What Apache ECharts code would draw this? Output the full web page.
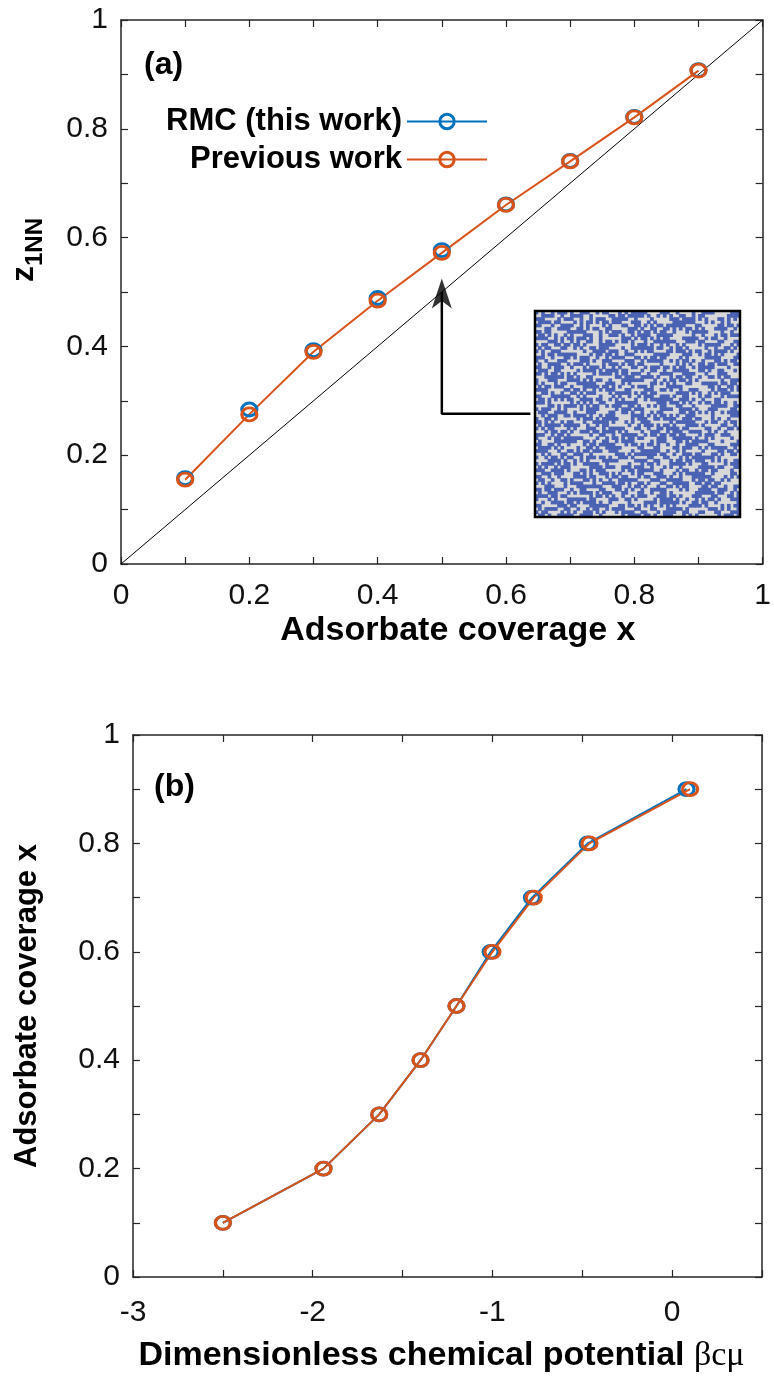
<!DOCTYPE html>
<html>
<head>
<meta charset="utf-8">
<script src="https://cdn.jsdelivr.net/npm/echarts@6/dist/echarts.min.js"></script>
<style>
  html, body { margin: 0; padding: 0; background: #fff; }
  .demo { width: 774px; height: 1383px; }
</style>
</head>
<body>
<div class="demo"></div>
<script>
// panel (a): nearest-neighbour fraction vs coverage
const xTop = [0.1, 0.2, 0.3, 0.4, 0.5, 0.6, 0.7, 0.8, 0.9]
const rmcTop = [0.158, 0.284, 0.393, 0.489, 0.577, 0.661, 0.741, 0.822, 0.908]
const prevTop = [0.155, 0.275, 0.390, 0.484, 0.572, 0.660, 0.740, 0.821, 0.907]
const diagLine = [[0, 0], [1, 1]]
const arrowPath = [[0.638, 0.276], [0.5, 0.276], [0.5, 0.5]]
const arrowTip = [0.5, 0.525]

// panel (b): coverage vs chemical potential
const coverage = [0.1, 0.2, 0.3, 0.4, 0.5, 0.6, 0.7, 0.8, 0.9]
const muRmc = [-2.5, -1.94, -1.63, -1.40, -1.20, -1.01, -0.78, -0.47, 0.08]
const muPrev = [-2.5, -1.94, -1.63, -1.40, -1.20, -1.00, -0.77, -0.46, 0.10]

// inset lattice snapshot, one hex digit = 4 sites
const insetRows = [
  'a5d3962be1c84f07', '3c9e41b7d2a6580f', 'e1725cf9083bd46a', '7b0ad6e3941fc528',
  'c4f28519ab7e306d', '19e6b3074cd5a8f2', 'd83f0ae6b5917c24', '6a51c9d2f3e048b7',
  'f2b7481d6ac3e590', '0e94cb5a27f1d863', 'b36d0f82e94a17c5', '58ca6e13fb2d049a',
  'a7013dc9586eb2f4', '2df85b4e07c396a1', 'e46b92f1ad8507c3', '91c3a70e5f2b48d6',
  '4f2e85d6c10a9b73', 'cb9174a32ed65f08', '7305ebd84c9f1a62', 'd6a82f5b91e3c470',
  '1fb4c06e7a2d9358', '8e3d591fc4b6a027', 'a2c7e3940d518fb6', '5b91f6a2e87c034d',
  'f06d2b8c39a4e175', '349ae17d6c0f52b8', 'c7e508a4b9d3162f', '6ab3d9512fe748c0',
  'e8154c7f03ba96d2', '0d7ab2e6958c41f3', 'b942f05dc1e7a386', '73c8e19a4b06d52f',
  '2e6f4b83d5a9c107', '9a05d7c2e6f3b148', 'd4b13e8a702fc596', '5f7c9604bad1e832',
  'ac28e5f1937b064d', '16d3b7a84e5cf290', 'e5a04c9f2db61738', '8b7e12d6c39fa504',
  '43f9a65e0b8d7c21', 'cd216f8b5a49e307', '7a84d3e0c61b95f2', 'f135b9c27e4a086d',
  '28ce4075fd93b1a6', '96b2ed3a18c57f40', '0f4a87c1e62db953', 'bd69f2045a3e8c17',
  '52e07b9dc8a41f63', 'e7a35c16f90b2d84', '3b8d4ea2c715f906', 'c90f62d8b3a47e15',
  '64d1a93f0e7c5b28', 'a85e27b4d19f36c0', '1c47f8e5a26b0d93', 'db930c6a4f851e72',
  '4e2bd718c9a03f65', 'f6c05a92e3b4718d', '8a3f61cd05e92b47', '27b5e9043dfa6c81',
  'c1d87e36a950f42b', '5e64b2f18c7d03a9', 'b0a9d45e62f318c7', '69f3c817b4e2a05d'
]

const blue = '#0072BD'
const orange = '#D95319'
const axisColor = '#262626'
const font = "'Liberation Sans', Arial, sans-serif"

const latticeN = insetRows[0].length * 4
const latticeCats = []
for (let i = 0; i < latticeN; i++) latticeCats.push(i)
const latticeData = []
insetRows.forEach((row, r) => {
  for (let c = 0; c < row.length; c++) {
    const bits = parseInt(row[c], 16)
    for (let b = 0; b < 4; b++) {
      if (bits & (8 >> b)) latticeData.push([c * 4 + b, r, 1])
    }
  }
})

function zip(xs, ys) {
  return xs.map((x, i) => [x, ys[i]])
}

const chartinstance = echarts.init(document.querySelector('.demo'))

function boxAxis(opt) {
  return Object.assign({
    type: 'value',
    splitLine: { show: false },
    axisLine: { show: true, onZero: false, lineStyle: { color: axisColor, width: 1.5 } },
    axisTick: { show: true, inside: true, length: 7, lineStyle: { color: axisColor, width: 1.2 } },
    axisLabel: { show: false }
  }, opt)
}

const tickLabel = { show: true, color: '#111', fontSize: 30, fontFamily: font }
const tenths = v => Math.round(v * 10) % 2 === 0 ? String(Math.round(v * 10) / 10) : ''

function markerSeries(name, data, color, xi, yi, lineOpacity) {
  return {
    name: name,
    type: 'line',
    xAxisIndex: xi,
    yAxisIndex: yi,
    data: data,
    symbol: 'circle',
    symbolSize: [15, 13],
    lineStyle: { color: color, width: 2, opacity: lineOpacity },
    itemStyle: { color: 'rgba(255,255,255,0)', borderColor: color, borderWidth: 3 },
    emphasis: { disabled: true },
    z: 3
  }
}

const legendText = { fontSize: 31, fontWeight: 'bold', fontFamily: font, color: '#000' }
const legendBase = {
  orient: 'vertical', right: 281, itemWidth: 80, itemHeight: 18, itemGap: 0,
  textStyle: legendText, align: 'right', selectedMode: false,
  itemStyle: { borderWidth: 3 }, lineStyle: { width: 2 }
}

const option = {
  backgroundColor: '#fff',
  animation: false,
  title: [
    { text: '(a)', left: 139, top: 44, textStyle: { fontSize: 32, fontWeight: 'bold', fontFamily: font, color: '#000' } },
    { text: '(b)', left: 149, top: 766, textStyle: { fontSize: 32, fontWeight: 'bold', fontFamily: font, color: '#000' } }
  ],
  legend: [
    Object.assign({ data: ['RMC (this work)'], top: 101 }, legendBase),
    Object.assign({ data: ['Previous work'], top: 139 }, legendBase)
  ],
  grid: [
    { left: 121, top: 20, width: 649, height: 544 },
    { left: 133, top: 735, width: 629, height: 542 },
    { left: 535, top: 311, width: 205, height: 206, show: true, backgroundColor: '#d8d8d8', borderWidth: 0 }
  ],
  xAxis: [
    boxAxis({
      gridIndex: 0, min: 0, max: 1, interval: 0.1,
      axisLabel: Object.assign({}, tickLabel, { margin: 17, formatter: tenths }),
      name: 'Adsorbate coverage x', nameLocation: 'middle', nameGap: 50,
      nameTextStyle: { fontSize: 34, fontWeight: 'bold', fontFamily: font, color: '#000', padding: [0, 0, 0, 32] }
    }),
    boxAxis({ gridIndex: 0, min: 0, max: 1, interval: 0.1, position: 'top' }),
    boxAxis({
      gridIndex: 1, min: -3, max: 0.5, interval: 0.5,
      axisLabel: Object.assign({}, tickLabel, {
        margin: 21,
        formatter: v => Math.round(v * 2) % 2 === 0 ? String(Math.round(v)) : ''
      }),
      name: '{b|Dimensionless chemical potential }{g|βcμ}', nameLocation: 'middle', nameGap: 62,
      nameTextStyle: {
        padding: [0, 12, 0, 0],
        rich: {
          b: { fontSize: 34, fontWeight: 'bold', fontFamily: font, color: '#000' },
          g: { fontSize: 34, fontFamily: "'Liberation Serif', 'DejaVu Serif', serif", color: '#000' }
        }
      }
    }),
    boxAxis({ gridIndex: 1, min: -3, max: 0.5, interval: 0.5, position: 'top' }),
    { type: 'category', gridIndex: 2, data: latticeCats, show: false }
  ],
  yAxis: [
    boxAxis({
      gridIndex: 0, min: 0, max: 1, interval: 0.1,
      axisLabel: Object.assign({}, tickLabel, { margin: 13, formatter: tenths }),
      name: '{z|z}{s|1NN}', nameLocation: 'middle', nameGap: 74,
      nameTextStyle: {
        padding: [0, 0, 0, 84],
        rich: {
          z: { fontSize: 32, fontWeight: 'bold', fontFamily: font, color: '#000', padding: [0, 0, 7, 0] },
          s: { fontSize: 24, fontWeight: 'bold', fontFamily: font, color: '#000', verticalAlign: 'bottom' }
        }
      }
    }),
    boxAxis({ gridIndex: 0, min: 0, max: 1, interval: 0.1, position: 'right' }),
    boxAxis({
      gridIndex: 1, min: 0, max: 1, interval: 0.1,
      axisLabel: Object.assign({}, tickLabel, { margin: 13, formatter: tenths }),
      name: 'Adsorbate coverage x', nameLocation: 'middle', nameGap: 90,
      nameTextStyle: { fontSize: 31, fontWeight: 'bold', fontFamily: font, color: '#000' }
    }),
    boxAxis({ gridIndex: 1, min: 0, max: 1, interval: 0.1, position: 'right' }),
    { type: 'category', gridIndex: 2, data: latticeCats, inverse: true, show: false }
  ],
  series: [
    // panel (b) first so the legend picks up its visible lines
    markerSeries('RMC (this work)', zip(muRmc, coverage), blue, 2, 2, 1),
    markerSeries('Previous work', zip(muPrev, coverage), orange, 2, 2, 1),
    {
      type: 'line', xAxisIndex: 0, yAxisIndex: 0, data: diagLine, symbol: 'none', silent: true,
      lineStyle: { color: '#000', width: 1 }, z: 2
    },
    markerSeries('RMC (this work)', zip(xTop, rmcTop), blue, 0, 0, 0),
    markerSeries('Previous work', zip(xTop, prevTop), orange, 0, 0, 1),
    {
      type: 'line', xAxisIndex: 0, yAxisIndex: 0, data: arrowPath, symbol: 'none', silent: true,
      lineStyle: { color: '#000', width: 2.5 }, z: 4
    },
    {
      type: 'scatter', xAxisIndex: 0, yAxisIndex: 0, data: [arrowTip], symbol: 'arrow',
      symbolSize: [15, 30], itemStyle: { color: '#000' }, silent: true, z: 4
    },
    {
      type: 'heatmap', xAxisIndex: 4, yAxisIndex: 4, data: latticeData, silent: true,
      itemStyle: { color: '#4a62b4' }, emphasis: { disabled: true }
    }
  ],
  graphic: [
    {
      type: 'rect', shape: { x: 535, y: 311, width: 205, height: 206 },
      style: { fill: 'none', stroke: '#000', lineWidth: 2.5 }, z: 100, silent: true
    }
  ]
}

option && chartinstance.setOption(option)
window.addEventListener('resize', () => {
  chartinstance.resize()
})
</script>
</body>
</html>
